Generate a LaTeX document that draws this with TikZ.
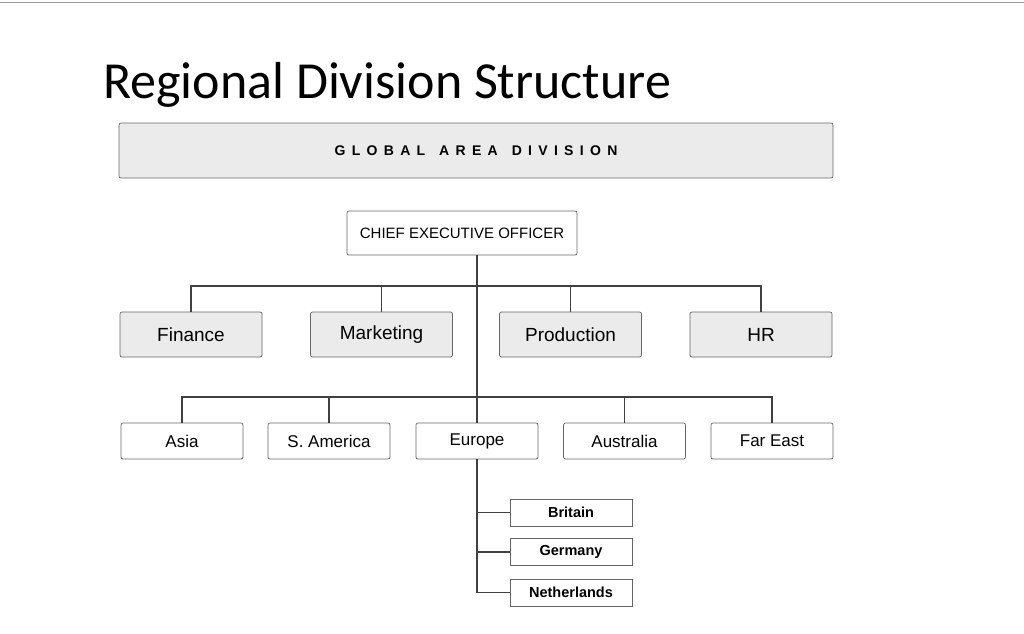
\documentclass[tikz,border=0pt]{standalone}
\usepackage{fontspec}
\setmainfont{Liberation Sans}
\newfontfamily\titlefont{Carlito}
\newfontfamily\spaced{Liberation Sans}[LetterSpace=45]
\begin{document}
\begin{tikzpicture}[x=1pt,y=-1pt,
  bx/.style={draw=black!60,rounded corners=2pt,line width=0.7pt,inner sep=0pt},
  gbx/.style={bx,fill=black!8},
  wbx/.style={bx,fill=white},
  ln/.style={draw=black!75,line width=1.3pt}]
\useasboundingbox (0,0) rectangle (1024,633);
\draw[black!40,line width=1pt] (0,2) -- (1024,2);
\node[anchor=base west,font=\titlefont\fontsize{52}{56}\selectfont,inner sep=0pt] (title) at (103,98) {Regional Division Structure};
\node[gbx,minimum width=714pt,minimum height=55pt] (global) at (476,150.5) {\fontsize{14}{16}\selectfont\spaced\bfseries GLOBAL\hspace{14pt}AREA\hspace{14pt}DIVISION};
\node[wbx,minimum width=230pt,minimum height=44pt] (ceo) at (462,233) {\fontsize{15}{17}\selectfont CHIEF EXECUTIVE OFFICER};
\foreach \n/\t/\x in {fin/Finance/191,mkt/Marketing/381.5,prod/Production/570.5,hr/HR/761}
  \node[gbx,minimum width=142pt,minimum height=45pt,font=\fontsize{19}{21}\selectfont] (\n) at (\x,334.5) {\t};
\foreach \n/\t/\x in {asia/Asia/182,sam/S. America/329,eur/Europe/477,aus/Australia/624.5,far/Far East/772}
  \node[wbx,minimum width=122pt,minimum height=36pt,font=\fontsize{17}{19}\selectfont] (\n) at (\x,441) {\t};
\foreach \n/\t/\y in {bri/Britain/512.5,ger/Germany/552,net/Netherlands/592.5}
  \node[draw=black!60,line width=0.7pt,fill=white,minimum width=122pt,minimum height=27pt,font=\fontsize{14.5}{16}\selectfont\bfseries] (\n) at (571,\y) {\t};
\coordinate (cb) at (477,255);
\draw[ln] (cb) -- (eur.north);
\draw[ln] (fin.north) |- (477,286) -| (hr.north);
\draw[ln] (mkt.north) -- (mkt.north |- 0,286);
\draw[ln] (prod.north) -- (prod.north |- 0,286);
\draw[ln] (asia.north) |- (477,397) -| (far.north);
\draw[ln] (sam.north) -- (sam.north |- 0,397);
\draw[ln] (aus.north) -- (aus.north |- 0,397);
\draw[ln] (eur.south) |- (net.west);
\draw[ln] (eur.south |- bri.west) -- (bri.west);
\draw[ln] (eur.south |- ger.west) -- (ger.west);
\end{tikzpicture}
\end{document}
